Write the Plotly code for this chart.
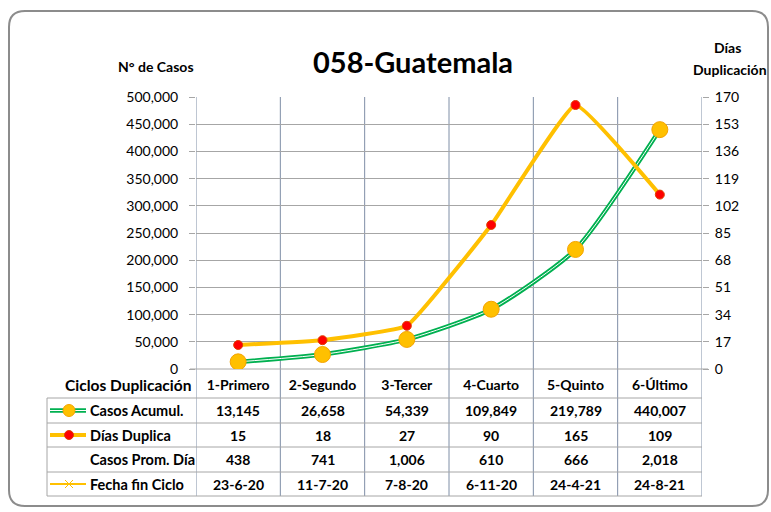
import plotly.graph_objects as go

# data
ciclos = ["1-Primero", "2-Segundo", "3-Tercer", "4-Cuarto", "5-Quinto", "6-Último"]
casos_acumul = [13145, 26658, 54339, 109849, 219789, 440007]
dias_duplica = [15, 18, 27, 90, 165, 109]
casos_prom_dia = [438, 741, 1006, 610, 666, 2018]
fecha_fin = ["23-6-20", "11-7-20", "7-8-20", "6-11-20", "24-4-21", "24-8-21"]

row_labels = ["Casos Acumul.", "Días Duplica", "Casos Prom. Día", "Fecha fin Ciclo"]

W, H = 771, 512
L, R, T, B = 196, 702, 97, 369   # plot area in pixels

FONT = "Lato"
GREEN = "#00B050"
GOLD = "#FFC000"
RED = "#FF0000"
VGRID = "#7F8EA6"
HGRID = "#A6A6A6"


def px(x):
    return (x - L) / (R - L)


def py(y):
    return (B - y) / (B - T)


def label(x, y, text, size=14, xanchor="center", xref="paper"):
    return dict(xref=xref, yref="paper", x=x, y=y, xanchor=xanchor, yanchor="middle",
                text=f"<b>{text}</b>", showarrow=False,
                font=dict(family=FONT, size=size, color="black"))


xs = list(range(len(ciclos)))
fig = go.Figure()

# Casos acumulados: green double line with gold markers
fig.add_trace(go.Scatter(
    x=xs, y=casos_acumul, mode="lines", line=dict(color=GREEN, width=4.5, shape="spline", smoothing=0.6),
    hoverinfo="skip", showlegend=False))
fig.add_trace(go.Scatter(
    x=xs, y=casos_acumul, mode="lines+markers", line=dict(color="white", width=1, shape="spline", smoothing=0.6),
    marker=dict(size=16, color=GOLD, line=dict(color="#F4A300", width=1)),
    name="Casos Acumul.", showlegend=False))

# Dias duplicacion on the right axis
fig.add_trace(go.Scatter(
    x=xs, y=dias_duplica, yaxis="y2", mode="lines+markers",
    line=dict(color=GOLD, width=4, shape="spline", smoothing=0.3),
    marker=dict(size=9, color=RED, line=dict(color="#E04000", width=1)),
    name="Días Duplica", showlegend=False))

shapes = []
ann = []

# vertical category lines, through plot and table
for i in range(len(ciclos) + 1):
    shapes.append(dict(type="line", xref="x", yref="paper", x0=i - 0.5, x1=i - 0.5,
                       y0=py(496), y1=1, line=dict(color=VGRID, width=1), layer="below"))

# zero line with tick stubs on both sides
shapes.append(dict(type="line", xref="paper", yref="paper", x0=px(190), x1=px(708),
                   y0=0, y1=0, line=dict(color=HGRID, width=1), layer="below"))

# table horizontal lines
for yy in [398, 423, 447, 472, 496]:
    shapes.append(dict(type="line", xref="paper", yref="paper", x0=px(47), x1=1,
                       y0=py(yy), y1=py(yy), line=dict(color=HGRID, width=1)))
shapes.append(dict(type="line", xref="paper", yref="paper", x0=px(47), x1=px(47),
                   y0=py(398), y1=py(496), line=dict(color=HGRID, width=1)))

# table values
rows = [
    [f"{v:,}" for v in casos_acumul],
    [str(v) for v in dias_duplica],
    [f"{v:,}" for v in casos_prom_dia],
    fecha_fin,
]
row_centers = [410.5, 435, 459.5, 484]
for r, vals in enumerate(rows):
    for i, txt in enumerate(vals):
        ann.append(label(i, py(row_centers[r]), txt, xref="x"))
    ann.append(label(px(88), py(row_centers[r]), row_labels[r], size=14.5, xanchor="left"))

# legend keys in table
yk = py(row_centers[0])
shapes.append(dict(type="line", xref="paper", yref="paper", x0=px(50), x1=px(86), y0=yk, y1=yk,
                   line=dict(color=GREEN, width=4.5)))
shapes.append(dict(type="line", xref="paper", yref="paper", x0=px(50), x1=px(86), y0=yk, y1=yk,
                   line=dict(color="white", width=1)))
shapes.append(dict(type="circle", xref="paper", yref="paper", x0=px(63), x1=px(75),
                   y0=py(row_centers[0] + 6), y1=py(row_centers[0] - 6),
                   fillcolor=GOLD, line=dict(color="#F4A300", width=1)))
yk = py(row_centers[1])
shapes.append(dict(type="line", xref="paper", yref="paper", x0=px(50), x1=px(86), y0=yk, y1=yk,
                   line=dict(color=GOLD, width=4)))
shapes.append(dict(type="circle", xref="paper", yref="paper", x0=px(64.5), x1=px(73.5),
                   y0=py(row_centers[1] + 4.5), y1=py(row_centers[1] - 4.5),
                   fillcolor=RED, line=dict(color="#E04000", width=1)))
yk = py(row_centers[3])
shapes.append(dict(type="line", xref="paper", yref="paper", x0=px(50), x1=px(86), y0=yk, y1=yk,
                   line=dict(color=GOLD, width=2)))
for d in (-1, 1):
    shapes.append(dict(type="line", xref="paper", yref="paper", x0=px(65), x1=px(73),
                       y0=py(row_centers[3] - 4 * d), y1=py(row_centers[3] + 4 * d),
                       line=dict(color=GOLD, width=1)))

# rounded outer frame
x0, x1, y0, y1 = px(9), px(768), py(506), py(11)
rx, ry = 16 / (R - L), 16 / (B - T)
path = (f"M {x0 + rx},{y1} L {x1 - rx},{y1} Q {x1},{y1} {x1},{y1 - ry} "
        f"L {x1},{y0 + ry} Q {x1},{y0} {x1 - rx},{y0} "
        f"L {x0 + rx},{y0} Q {x0},{y0} {x0},{y0 + ry} "
        f"L {x0},{y1 - ry} Q {x0},{y1} {x0 + rx},{y1} Z")
shapes.append(dict(type="path", xref="paper", yref="paper", path=path,
                   line=dict(color="#8C8C8C", width=2), layer="below"))

# texts
ann += [
    label(px(413), py(61), "058-Guatemala", size=29),
    label(px(156), py(67), "N° de Casos"),
    label(px(727), py(48), "Días"),
    label(px(730), py(70), "Duplicación"),
    label(px(193), py(385), "Ciclos Duplicación", size=15.5, xanchor="right"),
]

fig.update_layout(
    width=W, height=H,
    margin=dict(l=L, r=W - R, t=T, b=H - B),
    paper_bgcolor="white", plot_bgcolor="white",
    showlegend=False,
    xaxis=dict(
        tickmode="array", tickvals=xs, ticktext=[f"<b>{c}</b>" for c in ciclos],
        range=[-0.5, len(ciclos) - 0.5], showgrid=False, zeroline=False, ticks="",
        tickfont=dict(family=FONT, size=14, color="black"), ticklabelstandoff=6,
        showline=False,
    ),
    yaxis=dict(
        range=[0, 500000], dtick=50000, tickformat=",", showgrid=True, gridcolor=HGRID, gridwidth=1,
        zeroline=False, ticks="outside", ticklen=6, tickcolor=HGRID, ticklabelstandoff=8,
        tickfont=dict(family=FONT, size=14, color="black"),
    ),
    yaxis2=dict(
        range=[0, 170], dtick=17, overlaying="y", side="right", showgrid=False, zeroline=False,
        ticks="outside", ticklen=6, tickcolor=HGRID, ticklabelstandoff=3,
        tickfont=dict(family=FONT, size=14, color="black"),
    ),
    shapes=shapes,
    annotations=ann,
)

# drop the default page margin so the figure fills the window exactly
fig.write_html("out.html", config={"displayModeBar": False},
               post_script="document.body.style.margin='0';")
